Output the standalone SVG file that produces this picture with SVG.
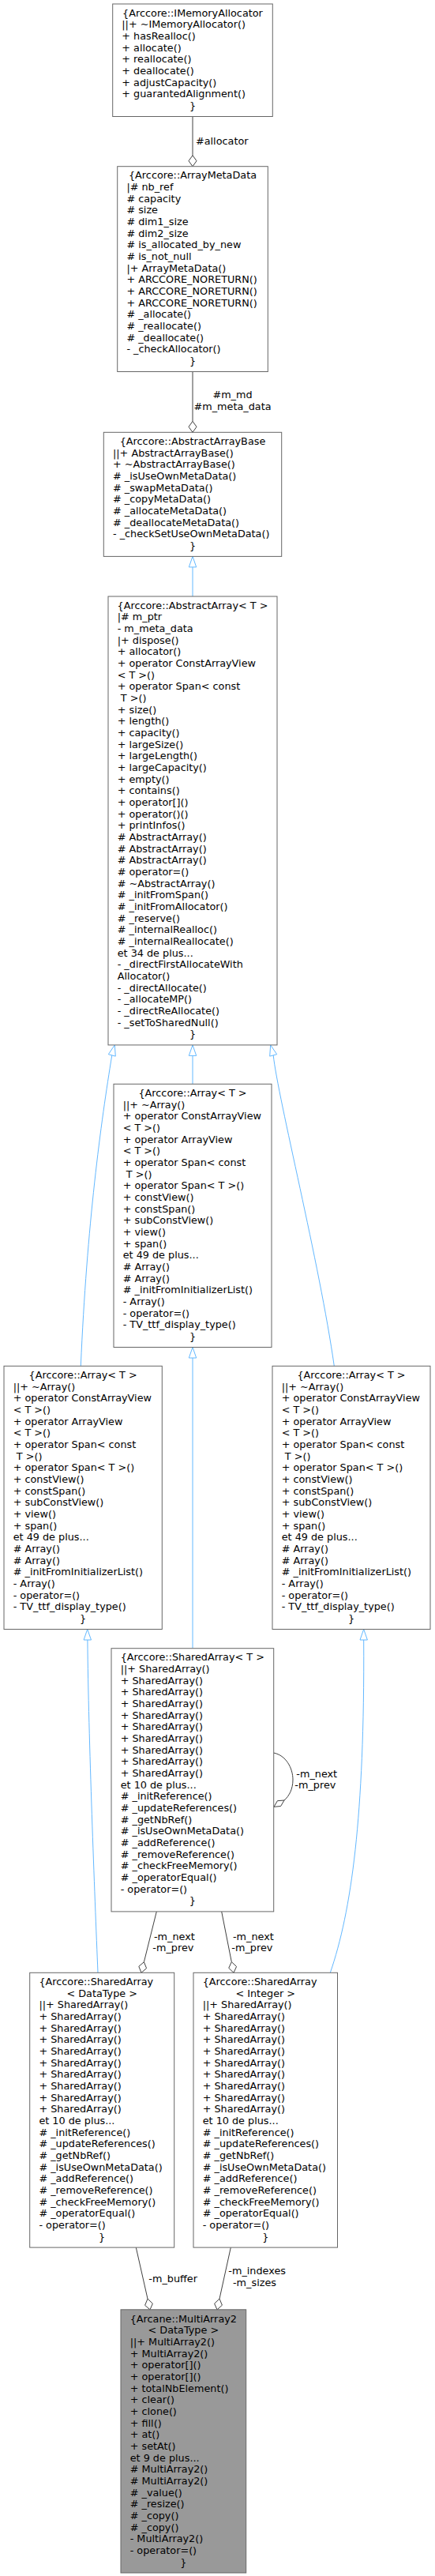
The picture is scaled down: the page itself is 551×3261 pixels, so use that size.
<svg xmlns="http://www.w3.org/2000/svg" width="551" height="3261" viewBox="0 0 551 3261">
<style>
text{font-family:"DejaVu Sans",Verdana,sans-serif;font-size:12.8px;fill:#000}
.node rect{fill:#fff;stroke:#666;stroke-width:1}
#MultiArray2 rect{fill:#999}
.c{text-anchor:middle}
.inh{fill:none;stroke:#63B8FF;stroke-width:1}
.ah{fill:#fff;stroke:#63B8FF;stroke-width:1}
.use{fill:none;stroke:#404040;stroke-width:1}
.dm{fill:#fff;stroke:#404040;stroke-width:1}
.lbl{fill:#000}
</style>
<rect width="551" height="3261" fill="#fff"/>
<g id="connectors">
<path class="use" d="M244,147.5V196.7"/>
<polygon class="dm" points="244,196.7 249,203.7 244,210.7 239,203.7"/>
<text class="lbl" x="248" y="183">#allocator</text>
<path class="use" d="M244,470.5V533.3"/>
<polygon class="dm" points="244,533.3 249,540.3 244,547.3 239,540.3"/>
<text class="lbl c" x="294.5" y="504">#m_md</text>
<text class="lbl c" x="294.5" y="519">#m_meta_data</text>
<path class="inh" d="M244,755V717.9"/>
<polygon class="ah" points="244,704.4 248.7,717.9 239.3,717.9"/>
<path class="inh" d="M244,1372.3V1336.4"/>
<polygon class="ah" points="244,1322.9 248.7,1336.4 239.3,1336.4"/>
<path class="inh" d="M102.3,1729.3C110,1550 128,1420 141.8,1335.9"/>
<polygon class="ah" points="145.3,1322.9 146.3,1337.1 137.3,1334.7"/>
<path class="inh" d="M423.3,1729.3C405,1600 352,1390 346.2,1335.9"/>
<polygon class="ah" points="342.7,1322.9 350.7,1334.7 341.7,1337.1"/>
<path class="inh" d="M244,2086.7V1719"/>
<polygon class="ah" points="244,1705.5 248.7,1719 239.3,1719"/>
<path class="inh" d="M124,2497.3C120,2400 112,2200 110.9,2076"/>
<polygon class="ah" points="110.7,2062.5 115.5,2076 106.1,2076"/>
<path class="inh" d="M418.3,2497.3C445,2420 462,2300 460.7,2076"/>
<polygon class="ah" points="460.7,2062.5 465.4,2076 456,2076"/>
<path class="use" d="M346.7,2219C362,2222 371,2238 371,2253C371,2265 366,2274 360,2279"/>
<polygon class="dm" points="360,2279 355.6,2286.5 347,2287.3 351.4,2279.7"/>
<text class="lbl" x="375.3" y="2250">-m_next</text>
<text class="lbl" x="373.3" y="2264">-m_prev</text>
<path class="use" d="M198.3,2419.9L182.4,2483.7"/>
<polygon class="dm" points="182.4,2483.7 185.55,2491.7 179,2497.3 175.85,2489.3"/>
<text class="lbl" x="195" y="2456">-m_next</text>
<text class="lbl" x="193.3" y="2470">-m_prev</text>
<path class="use" d="M280.7,2419.9L293.3,2483.6"/>
<polygon class="dm" points="293.3,2483.6 299.55,2489.5 296,2497.3 289.75,2491.4"/>
<text class="lbl" x="295" y="2456">-m_next</text>
<text class="lbl" x="293.3" y="2470">-m_prev</text>
<path class="use" d="M172.3,2845.1L187,2910.1"/>
<polygon class="dm" points="187,2910.1 193.4,2916.1 190,2923.8 183.6,2918.3"/>
<text class="lbl" x="188.3" y="2889">-m_buffer</text>
<path class="use" d="M292.3,2845.1L278,2910.1"/>
<polygon class="dm" points="278,2910.1 281.4,2918.2 275,2923.8 271.6,2916.1"/>
<text class="lbl" x="289.3" y="2879">-m_indexes</text>
<text class="lbl" x="295" y="2894">-m_sizes</text>
</g>

<g id="IMemoryAllocator" class="node">
<rect x="142.7" y="5" width="202.6" height="142.5"/>
<text y="20.7"><tspan x="244" class="c">{Arccore::IMemoryAllocator</tspan><tspan x="154.3" dy="14.67">||+ ~IMemoryAllocator()</tspan><tspan x="154.3" dy="14.67">+ hasRealloc()</tspan><tspan x="154.3" dy="14.67">+ allocate()</tspan><tspan x="154.3" dy="14.67">+ reallocate()</tspan><tspan x="154.3" dy="14.67">+ deallocate()</tspan><tspan x="154.3" dy="14.67">+ adjustCapacity()</tspan><tspan x="154.3" dy="14.67">+ guarantedAlignment()</tspan><tspan x="244" dy="14.67" class="c">}</tspan></text>
</g>

<g id="ArrayMetaData" class="node">
<rect x="148.7" y="210.7" width="190.6" height="259.8"/>
<text y="226.4"><tspan x="244" class="c">{Arccore::ArrayMetaData</tspan><tspan x="160.4" dy="14.67">|# nb_ref</tspan><tspan x="160.4" dy="14.67"># capacity</tspan><tspan x="160.4" dy="14.67"># size</tspan><tspan x="160.4" dy="14.67"># dim1_size</tspan><tspan x="160.4" dy="14.67"># dim2_size</tspan><tspan x="160.4" dy="14.67"># is_allocated_by_new</tspan><tspan x="160.4" dy="14.67"># is_not_null</tspan><tspan x="160.4" dy="14.67">|+ ArrayMetaData()</tspan><tspan x="160.4" dy="14.67">+ ARCCORE_NORETURN()</tspan><tspan x="160.4" dy="14.67">+ ARCCORE_NORETURN()</tspan><tspan x="160.4" dy="14.67">+ ARCCORE_NORETURN()</tspan><tspan x="160.4" dy="14.67"># _allocate()</tspan><tspan x="160.4" dy="14.67"># _reallocate()</tspan><tspan x="160.4" dy="14.67"># _deallocate()</tspan><tspan x="160.4" dy="14.67">- _checkAllocator()</tspan><tspan x="244" dy="14.67" class="c">}</tspan></text>
</g>

<g id="AbstractArrayBase" class="node">
<rect x="131.3" y="547.3" width="225.4" height="157.1"/>
<text y="563"><tspan x="244" class="c">{Arccore::AbstractArrayBase</tspan><tspan x="143" dy="14.67">||+ AbstractArrayBase()</tspan><tspan x="143" dy="14.67">+ ~AbstractArrayBase()</tspan><tspan x="143" dy="14.67"># _isUseOwnMetaData()</tspan><tspan x="143" dy="14.67"># _swapMetaData()</tspan><tspan x="143" dy="14.67"># _copyMetaData()</tspan><tspan x="143" dy="14.67"># _allocateMetaData()</tspan><tspan x="143" dy="14.67"># _deallocateMetaData()</tspan><tspan x="143" dy="14.67">- _checkSetUseOwnMetaData()</tspan><tspan x="244" dy="14.67" class="c">}</tspan></text>
</g>

<g id="AbstractArray" class="node">
<rect x="137" y="755" width="214" height="567.9"/>
<text y="770.7"><tspan x="244" class="c">{Arccore::AbstractArray&lt; T &gt;</tspan><tspan x="148.7" dy="14.67">|# m_ptr</tspan><tspan x="148.7" dy="14.67">- m_meta_data</tspan><tspan x="148.7" dy="14.67">|+ dispose()</tspan><tspan x="148.7" dy="14.67">+ allocator()</tspan><tspan x="148.7" dy="14.67">+ operator ConstArrayView</tspan><tspan x="148.7" dy="14.67">&lt; T &gt;()</tspan><tspan x="148.7" dy="14.67">+ operator Span&lt; const</tspan><tspan x="152.8" dy="14.67">T &gt;()</tspan><tspan x="148.7" dy="14.67">+ size()</tspan><tspan x="148.7" dy="14.67">+ length()</tspan><tspan x="148.7" dy="14.67">+ capacity()</tspan><tspan x="148.7" dy="14.67">+ largeSize()</tspan><tspan x="148.7" dy="14.67">+ largeLength()</tspan><tspan x="148.7" dy="14.67">+ largeCapacity()</tspan><tspan x="148.7" dy="14.67">+ empty()</tspan><tspan x="148.7" dy="14.67">+ contains()</tspan><tspan x="148.7" dy="14.67">+ operator[]()</tspan><tspan x="148.7" dy="14.67">+ operator()()</tspan><tspan x="148.7" dy="14.67">+ printInfos()</tspan><tspan x="148.7" dy="14.67"># AbstractArray()</tspan><tspan x="148.7" dy="14.67"># AbstractArray()</tspan><tspan x="148.7" dy="14.67"># AbstractArray()</tspan><tspan x="148.7" dy="14.67"># operator=()</tspan><tspan x="148.7" dy="14.67"># ~AbstractArray()</tspan><tspan x="148.7" dy="14.67"># _initFromSpan()</tspan><tspan x="148.7" dy="14.67"># _initFromAllocator()</tspan><tspan x="148.7" dy="14.67"># _reserve()</tspan><tspan x="148.7" dy="14.67"># _internalRealloc()</tspan><tspan x="148.7" dy="14.67"># _internalReallocate()</tspan><tspan x="148.7" dy="14.67">et 34 de plus...</tspan><tspan x="148.7" dy="14.67">- _directFirstAllocateWith</tspan><tspan x="148.7" dy="14.67">Allocator()</tspan><tspan x="148.7" dy="14.67">- _directAllocate()</tspan><tspan x="148.7" dy="14.67">- _allocateMP()</tspan><tspan x="148.7" dy="14.67">- _directReAllocate()</tspan><tspan x="148.7" dy="14.67">- _setToSharedNull()</tspan><tspan x="244" dy="14.67" class="c">}</tspan></text>
</g>

<g id="Array_mid" class="node">
<rect x="144" y="1372.3" width="200" height="333.2"/>
<text y="1388"><tspan x="244" class="c">{Arccore::Array&lt; T &gt;</tspan><tspan x="155.7" dy="14.67">||+ ~Array()</tspan><tspan x="155.7" dy="14.67">+ operator ConstArrayView</tspan><tspan x="155.7" dy="14.67">&lt; T &gt;()</tspan><tspan x="155.7" dy="14.67">+ operator ArrayView</tspan><tspan x="155.7" dy="14.67">&lt; T &gt;()</tspan><tspan x="155.7" dy="14.67">+ operator Span&lt; const</tspan><tspan x="159.8" dy="14.67">T &gt;()</tspan><tspan x="155.7" dy="14.67">+ operator Span&lt; T &gt;()</tspan><tspan x="155.7" dy="14.67">+ constView()</tspan><tspan x="155.7" dy="14.67">+ constSpan()</tspan><tspan x="155.7" dy="14.67">+ subConstView()</tspan><tspan x="155.7" dy="14.67">+ view()</tspan><tspan x="155.7" dy="14.67">+ span()</tspan><tspan x="155.7" dy="14.67">et 49 de plus...</tspan><tspan x="155.7" dy="14.67"># Array()</tspan><tspan x="155.7" dy="14.67"># Array()</tspan><tspan x="155.7" dy="14.67"># _initFromInitializerList()</tspan><tspan x="155.7" dy="14.67">- Array()</tspan><tspan x="155.7" dy="14.67">- operator=()</tspan><tspan x="155.7" dy="14.67">- TV_ttf_display_type()</tspan><tspan x="244" dy="14.67" class="c">}</tspan></text>
</g>

<g id="Array_left" class="node">
<rect x="5" y="1729.3" width="200.3" height="333.2"/>
<text y="1745"><tspan x="105.15" class="c">{Arccore::Array&lt; T &gt;</tspan><tspan x="16.7" dy="14.67">||+ ~Array()</tspan><tspan x="16.7" dy="14.67">+ operator ConstArrayView</tspan><tspan x="16.7" dy="14.67">&lt; T &gt;()</tspan><tspan x="16.7" dy="14.67">+ operator ArrayView</tspan><tspan x="16.7" dy="14.67">&lt; T &gt;()</tspan><tspan x="16.7" dy="14.67">+ operator Span&lt; const</tspan><tspan x="20.8" dy="14.67">T &gt;()</tspan><tspan x="16.7" dy="14.67">+ operator Span&lt; T &gt;()</tspan><tspan x="16.7" dy="14.67">+ constView()</tspan><tspan x="16.7" dy="14.67">+ constSpan()</tspan><tspan x="16.7" dy="14.67">+ subConstView()</tspan><tspan x="16.7" dy="14.67">+ view()</tspan><tspan x="16.7" dy="14.67">+ span()</tspan><tspan x="16.7" dy="14.67">et 49 de plus...</tspan><tspan x="16.7" dy="14.67"># Array()</tspan><tspan x="16.7" dy="14.67"># Array()</tspan><tspan x="16.7" dy="14.67"># _initFromInitializerList()</tspan><tspan x="16.7" dy="14.67">- Array()</tspan><tspan x="16.7" dy="14.67">- operator=()</tspan><tspan x="16.7" dy="14.67">- TV_ttf_display_type()</tspan><tspan x="105.15" dy="14.67" class="c">}</tspan></text>
</g>

<g id="Array_right" class="node">
<rect x="345" y="1729.3" width="200" height="333.2"/>
<text y="1745"><tspan x="445" class="c">{Arccore::Array&lt; T &gt;</tspan><tspan x="356.7" dy="14.67">||+ ~Array()</tspan><tspan x="356.7" dy="14.67">+ operator ConstArrayView</tspan><tspan x="356.7" dy="14.67">&lt; T &gt;()</tspan><tspan x="356.7" dy="14.67">+ operator ArrayView</tspan><tspan x="356.7" dy="14.67">&lt; T &gt;()</tspan><tspan x="356.7" dy="14.67">+ operator Span&lt; const</tspan><tspan x="360.8" dy="14.67">T &gt;()</tspan><tspan x="356.7" dy="14.67">+ operator Span&lt; T &gt;()</tspan><tspan x="356.7" dy="14.67">+ constView()</tspan><tspan x="356.7" dy="14.67">+ constSpan()</tspan><tspan x="356.7" dy="14.67">+ subConstView()</tspan><tspan x="356.7" dy="14.67">+ view()</tspan><tspan x="356.7" dy="14.67">+ span()</tspan><tspan x="356.7" dy="14.67">et 49 de plus...</tspan><tspan x="356.7" dy="14.67"># Array()</tspan><tspan x="356.7" dy="14.67"># Array()</tspan><tspan x="356.7" dy="14.67"># _initFromInitializerList()</tspan><tspan x="356.7" dy="14.67">- Array()</tspan><tspan x="356.7" dy="14.67">- operator=()</tspan><tspan x="356.7" dy="14.67">- TV_ttf_display_type()</tspan><tspan x="445" dy="14.67" class="c">}</tspan></text>
</g>

<g id="SharedArray_T" class="node">
<rect x="141" y="2086.7" width="205.7" height="333.2"/>
<text y="2102.4"><tspan x="152.7">{Arccore::SharedArray&lt; T &gt;</tspan><tspan x="152.7" dy="14.67">||+ SharedArray()</tspan><tspan x="152.7" dy="14.67">+ SharedArray()</tspan><tspan x="152.7" dy="14.67">+ SharedArray()</tspan><tspan x="152.7" dy="14.67">+ SharedArray()</tspan><tspan x="152.7" dy="14.67">+ SharedArray()</tspan><tspan x="152.7" dy="14.67">+ SharedArray()</tspan><tspan x="152.7" dy="14.67">+ SharedArray()</tspan><tspan x="152.7" dy="14.67">+ SharedArray()</tspan><tspan x="152.7" dy="14.67">+ SharedArray()</tspan><tspan x="152.7" dy="14.67">+ SharedArray()</tspan><tspan x="152.7" dy="14.67">et 10 de plus...</tspan><tspan x="152.7" dy="14.67"># _initReference()</tspan><tspan x="152.7" dy="14.67"># _updateReferences()</tspan><tspan x="152.7" dy="14.67"># _getNbRef()</tspan><tspan x="152.7" dy="14.67"># _isUseOwnMetaData()</tspan><tspan x="152.7" dy="14.67"># _addReference()</tspan><tspan x="152.7" dy="14.67"># _removeReference()</tspan><tspan x="152.7" dy="14.67"># _checkFreeMemory()</tspan><tspan x="152.7" dy="14.67"># _operatorEqual()</tspan><tspan x="152.7" dy="14.67">- operator=()</tspan><tspan x="243.85" dy="14.67" class="c">}</tspan></text>
</g>

<g id="SharedArray_DataType" class="node">
<rect x="37.7" y="2497.3" width="183" height="347.8"/>
<text y="2513"><tspan x="49.4">{Arccore::SharedArray</tspan><tspan x="129.2" dy="14.67" class="c">&lt; DataType &gt;</tspan><tspan x="49.4" dy="14.67">||+ SharedArray()</tspan><tspan x="49.4" dy="14.67">+ SharedArray()</tspan><tspan x="49.4" dy="14.67">+ SharedArray()</tspan><tspan x="49.4" dy="14.67">+ SharedArray()</tspan><tspan x="49.4" dy="14.67">+ SharedArray()</tspan><tspan x="49.4" dy="14.67">+ SharedArray()</tspan><tspan x="49.4" dy="14.67">+ SharedArray()</tspan><tspan x="49.4" dy="14.67">+ SharedArray()</tspan><tspan x="49.4" dy="14.67">+ SharedArray()</tspan><tspan x="49.4" dy="14.67">+ SharedArray()</tspan><tspan x="49.4" dy="14.67">et 10 de plus...</tspan><tspan x="49.4" dy="14.67"># _initReference()</tspan><tspan x="49.4" dy="14.67"># _updateReferences()</tspan><tspan x="49.4" dy="14.67"># _getNbRef()</tspan><tspan x="49.4" dy="14.67"># _isUseOwnMetaData()</tspan><tspan x="49.4" dy="14.67"># _addReference()</tspan><tspan x="49.4" dy="14.67"># _removeReference()</tspan><tspan x="49.4" dy="14.67"># _checkFreeMemory()</tspan><tspan x="49.4" dy="14.67"># _operatorEqual()</tspan><tspan x="49.4" dy="14.67">- operator=()</tspan><tspan x="129.2" dy="14.67" class="c">}</tspan></text>
</g>

<g id="SharedArray_Integer" class="node">
<rect x="245" y="2497.3" width="182.5" height="347.8"/>
<text y="2513"><tspan x="256.7">{Arccore::SharedArray</tspan><tspan x="336.25" dy="14.67" class="c">&lt; Integer &gt;</tspan><tspan x="256.7" dy="14.67">||+ SharedArray()</tspan><tspan x="256.7" dy="14.67">+ SharedArray()</tspan><tspan x="256.7" dy="14.67">+ SharedArray()</tspan><tspan x="256.7" dy="14.67">+ SharedArray()</tspan><tspan x="256.7" dy="14.67">+ SharedArray()</tspan><tspan x="256.7" dy="14.67">+ SharedArray()</tspan><tspan x="256.7" dy="14.67">+ SharedArray()</tspan><tspan x="256.7" dy="14.67">+ SharedArray()</tspan><tspan x="256.7" dy="14.67">+ SharedArray()</tspan><tspan x="256.7" dy="14.67">+ SharedArray()</tspan><tspan x="256.7" dy="14.67">et 10 de plus...</tspan><tspan x="256.7" dy="14.67"># _initReference()</tspan><tspan x="256.7" dy="14.67"># _updateReferences()</tspan><tspan x="256.7" dy="14.67"># _getNbRef()</tspan><tspan x="256.7" dy="14.67"># _isUseOwnMetaData()</tspan><tspan x="256.7" dy="14.67"># _addReference()</tspan><tspan x="256.7" dy="14.67"># _removeReference()</tspan><tspan x="256.7" dy="14.67"># _checkFreeMemory()</tspan><tspan x="256.7" dy="14.67"># _operatorEqual()</tspan><tspan x="256.7" dy="14.67">- operator=()</tspan><tspan x="336.25" dy="14.67" class="c">}</tspan></text>
</g>

<g id="MultiArray2" class="node">
<rect x="153" y="2923.8" width="158.7" height="333.2"/>
<text y="2939.5"><tspan x="164.7">{Arcane::MultiArray2</tspan><tspan x="232.35" dy="14.67" class="c">&lt; DataType &gt;</tspan><tspan x="164.7" dy="14.67">||+ MultiArray2()</tspan><tspan x="164.7" dy="14.67">+ MultiArray2()</tspan><tspan x="164.7" dy="14.67">+ operator[]()</tspan><tspan x="164.7" dy="14.67">+ operator[]()</tspan><tspan x="164.7" dy="14.67">+ totalNbElement()</tspan><tspan x="164.7" dy="14.67">+ clear()</tspan><tspan x="164.7" dy="14.67">+ clone()</tspan><tspan x="164.7" dy="14.67">+ fill()</tspan><tspan x="164.7" dy="14.67">+ at()</tspan><tspan x="164.7" dy="14.67">+ setAt()</tspan><tspan x="164.7" dy="14.67">et 9 de plus...</tspan><tspan x="164.7" dy="14.67"># MultiArray2()</tspan><tspan x="164.7" dy="14.67"># MultiArray2()</tspan><tspan x="164.7" dy="14.67"># _value()</tspan><tspan x="164.7" dy="14.67"># _resize()</tspan><tspan x="164.7" dy="14.67"># _copy()</tspan><tspan x="164.7" dy="14.67"># _copy()</tspan><tspan x="164.7" dy="14.67">- MultiArray2()</tspan><tspan x="164.7" dy="14.67">- operator=()</tspan><tspan x="232.35" dy="14.67" class="c">}</tspan></text>
</g>
</svg>
